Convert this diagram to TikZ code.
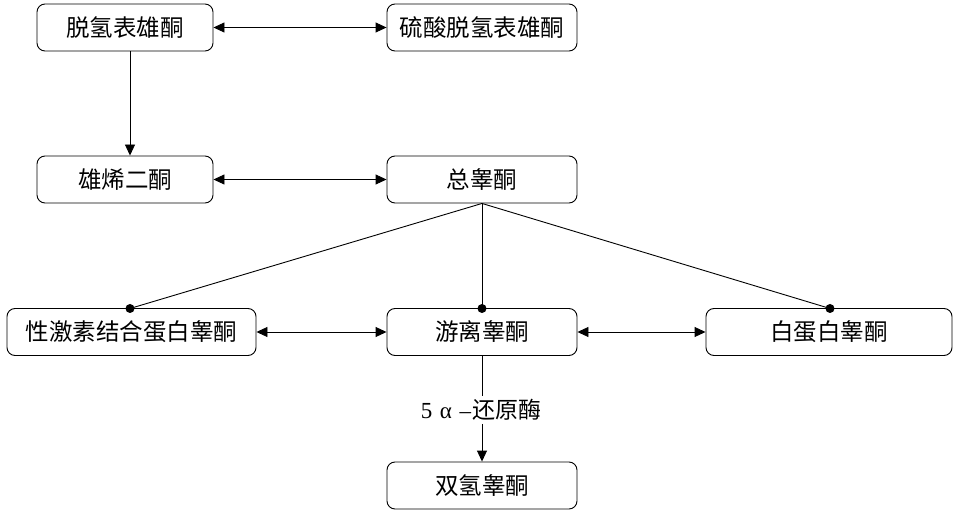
\documentclass[tikz,border=0pt]{standalone}
\usepackage{fontspec}
\setmainfont{Liberation Serif}
\newfontfamily\cjk{Noto Sans CJK SC}
\usetikzlibrary{arrows.meta}
\begin{document}
\begin{tikzpicture}[x=1pt,y=-1pt,
  box/.style={draw,line width=0.9pt,rounded corners=8pt,minimum height=47pt,inner sep=0pt,font=\cjk\fontsize{23.5}{26}\selectfont},
  link/.style={line width=0.9pt},
  tip/.style={line width=0.9pt,{Triangle[length=11pt,width=10pt]}-{Triangle[length=11pt,width=10pt]}},
  onetip/.style={line width=0.9pt,-{Triangle[length=11pt,width=10pt]}},
  dot/.style={circle,fill,inner sep=0pt,minimum size=9pt}]
\useasboundingbox (0,0) rectangle (962,513);
\node[box,minimum width=176pt] (A) at (125,27.5) {脱氢表雄酮};
\node[box,minimum width=190pt] (B) at (482,27.5) {硫酸脱氢表雄酮};
\node[box,minimum width=176pt] (C) at (125,179.5) {雄烯二酮};
\node[box,minimum width=190pt] (D) at (482,179.5) {总睾酮};
\node[box,minimum width=249pt] (E) at (131.5,332) {性激素结合蛋白睾酮};
\node[box,minimum width=190pt] (F) at (482,332) {游离睾酮};
\node[box,minimum width=246pt] (G) at (829,332) {白蛋白睾酮};
\node[box,minimum width=190pt] (H) at (482,485.5) {双氢睾酮};
\node[font=\fontsize{23}{26}\selectfont,inner sep=3pt] (L) at (481,410) {5\,\,α\,\,–\hspace{1pt}{\cjk 还原酶}};
\node[dot] (dE) at (130,308.5) {};
\node[dot] (dF) at (482,308.5) {};
\node[dot] (dG) at (830,308.5) {};
\draw[tip] (A.east) -- (B.west);
\draw[tip] (C.east) -- (D.west);
\draw[tip] (E.east) -- (F.west);
\draw[tip] (F.east) -- (G.west);
\draw[onetip] (A.south -| dE) -- (C.north -| dE);
\draw[link] (D.south) -- (dE.center);
\draw[link] (D.south) -- (dF.center);
\draw[link] (D.south) -- (dG.center);
\draw[link] (F.south) -- (L.north -| F.south);
\draw[onetip] (L.south -| H.north) -- (H.north);
\end{tikzpicture}
\end{document}
